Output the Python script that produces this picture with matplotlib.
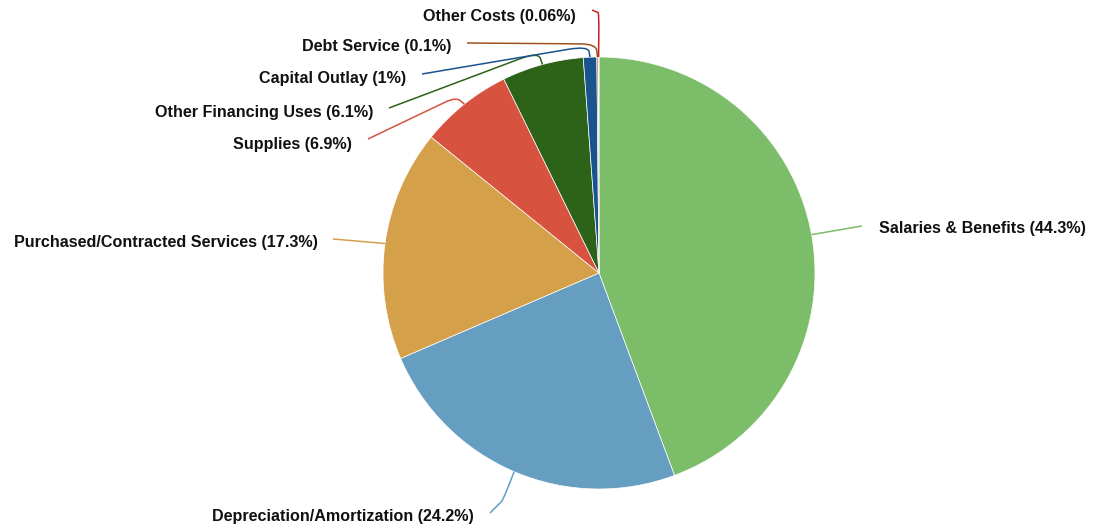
import matplotlib.pyplot as plt
import numpy as np
from matplotlib.path import Path
from matplotlib.patches import PathPatch

plt.rcParams['font.family'] = ['Liberation Sans', 'DejaVu Sans']

# data
categories = ["Salaries & Benefits", "Depreciation/Amortization",
              "Purchased/Contracted Services", "Supplies",
              "Other Financing Uses", "Capital Outlay",
              "Debt Service", "Other Costs"]
shares = [44.3, 24.2, 17.3, 6.9, 6.1, 1, 0.1, 0.06]
share_text = ["44.3%", "24.2%", "17.3%", "6.9%", "6.1%", "1%", "0.1%", "0.06%"]

colors = ["#7cbd6a", "#659ec1", "#d5a04a", "#d85240",
          "#2d6219", "#1a548e", "#a0521e", "#c81e1e"]

# layout in pixel coordinates: elbow (or None), line end, text anchor, alignment
leaders = [
    (None, (862, 226), (879, 229), "left"),
    ((503, 500), (490, 513), (474, 517), "right"),
    (None, (333, 239), (318, 243), "right"),
    ((456, 97), (368, 139), (352, 144), "right"),
    ((538, 52), (389, 108), (373, 112), "right"),
    ((588, 46), (422, 74), (406, 79), "right"),
    ((596, 44), (467, 43), (451, 47), "right"),
    ((599, 13), (592, 10), (576, 16), "right"),
]

cx, cy, r = 599, 273, 216

fig = plt.figure(figsize=(10.95, 5.31), dpi=100)
ax = fig.add_axes([0, 0, 1, 1])

wedges, _ = ax.pie(shares, colors=colors, center=(cx, cy), radius=r,
                   startangle=-90, counterclock=True,
                   wedgeprops=dict(edgecolor="white", linewidth=0.5))

for w, name, pct, col, (elbow, end, anchor, ha) in zip(
        wedges, categories, share_text, colors, leaders):
    mid = np.deg2rad((w.theta1 + w.theta2) / 2)
    p0 = np.array([cx + r * np.cos(mid), cy + r * np.sin(mid)])
    end = np.array(end, dtype=float)
    if elbow is None:
        verts = [p0, end]
        codes = [Path.MOVETO, Path.LINETO]
    else:
        e = np.array(elbow, dtype=float)
        a = p0 + (e - p0) * 0.5
        b = e + (end - e) * 0.12
        verts = [p0, a, e, b, end]
        codes = [Path.MOVETO, Path.LINETO, Path.CURVE3, Path.CURVE3, Path.LINETO]
    ax.add_patch(PathPatch(Path(verts, codes), facecolor="none",
                           edgecolor=col, linewidth=1.1))
    ax.text(anchor[0], anchor[1], f"{name} ({pct})", ha=ha, va="center",
            fontsize=11.6, fontweight="bold", color="#111111")

ax.set_xlim(0, 1095)
ax.set_ylim(531, 0)
ax.set_aspect("equal")
ax.axis("off")

fig.savefig("out.png", dpi=100)
